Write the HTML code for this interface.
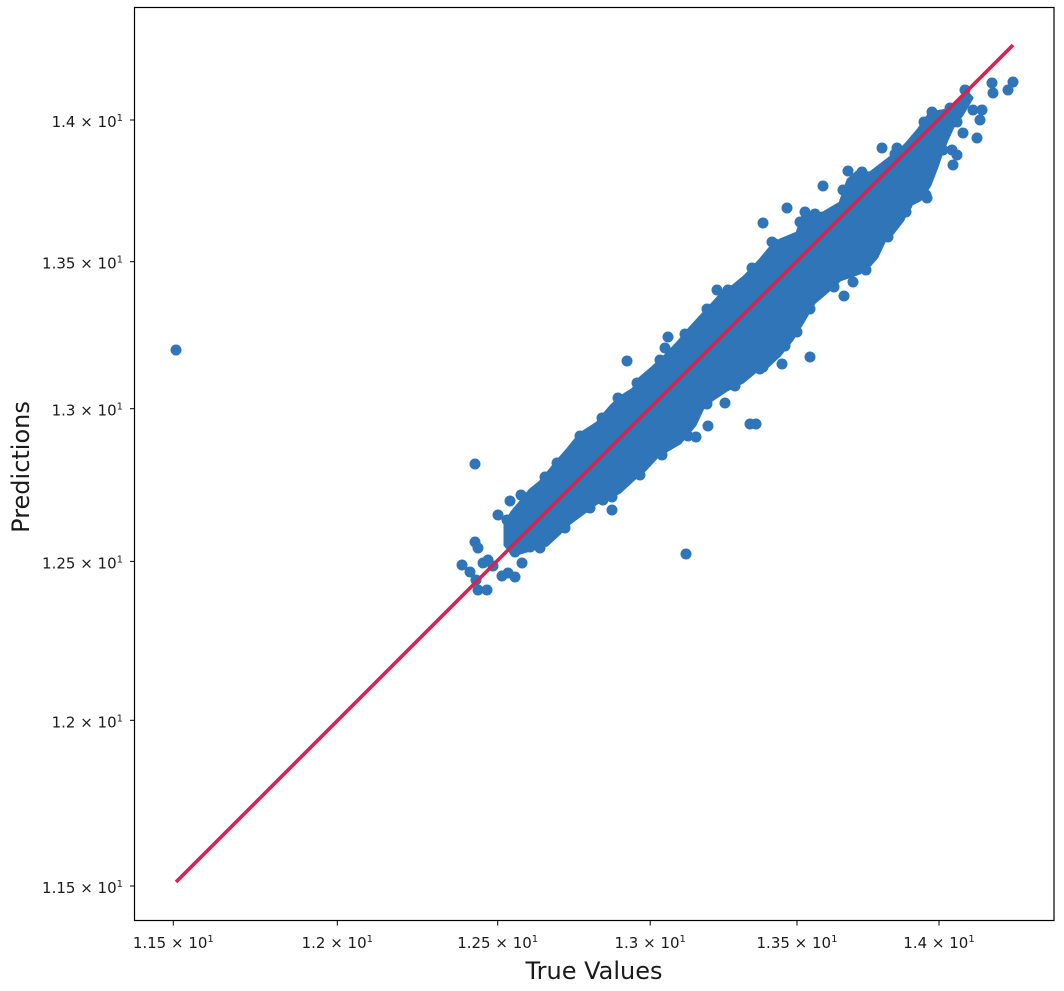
<!DOCTYPE html>
<html>
<head>
<meta charset="utf-8">
<style>
html,body{margin:0;padding:0;background:#fff;}
svg{display:block;}
text{font-family:"DejaVu Sans","Liberation Sans",sans-serif;fill:#1a1a1a;}
</style>
</head>
<body>
<svg width="1064" height="991" viewBox="0 0 1064 991" xmlns="http://www.w3.org/2000/svg">
<rect width="1064" height="991" fill="#fff"/>

<!-- scatter band -->
<g fill="#2f75b8" stroke="#2f75b8">
<polygon stroke-width="3" stroke-linejoin="round" points="
505,523 512,512 522,500 530,490 540,482 550,470 560,458 567,450 575,440 583,432 597,423 605,413 612,405 622,396 633,389 640,378 653,367 667,354 680,340 690,328 700,317 713,303 722,293 733,286 745,276 760,260 770,248 780,240 797,233 803,215 823,213 840,203 848,180 857,172 870,173 887,160 900,150 907,143 918,130 930,113 947,110 958,103 967,92 972,98
962,115 953,127 947,140 940,158 937,167 930,185 920,200 910,205 903,220 893,233 885,240 877,257 870,265 860,273 840,280 827,292 814,303 803,322 792,340 780,355 767,367 755,372 743,382 727,390 712,400 703,408 695,425 680,443 668,450 657,457 645,470 633,480 620,492 605,500 597,503 585,512 570,523 560,533 547,545 530,550 513,555 505,545"/>
</g>
<g fill="#2f75b8">
<!-- edge bumps -->
<circle cx="507" cy="520" r="5.5"/><circle cx="515" cy="552" r="5.5"/><circle cx="530" cy="547" r="5.5"/>
<circle cx="545" cy="477" r="5.5"/><circle cx="557" cy="463" r="5.5"/><circle cx="580" cy="436" r="5.5"/>
<circle cx="602" cy="418" r="5.5"/><circle cx="618" cy="398" r="5.5"/><circle cx="637" cy="383" r="5.5"/>
<circle cx="660" cy="360" r="5.5"/><circle cx="685" cy="334" r="5.5"/><circle cx="707" cy="309" r="5.5"/>
<circle cx="728" cy="290" r="5.5"/><circle cx="752" cy="268" r="5.5"/><circle cx="775" cy="244" r="5.5"/>
<circle cx="800" cy="222" r="5.5"/><circle cx="815" cy="214" r="5.5"/><circle cx="843" cy="190" r="5.5"/>
<circle cx="862" cy="172" r="5.5"/><circle cx="895" cy="154" r="5.5"/><circle cx="924" cy="122" r="5.5"/>
<circle cx="950" cy="108" r="5.5"/>
<circle cx="957" cy="122" r="5.5"/><circle cx="943" cy="150" r="5.5"/><circle cx="926" cy="195" r="5.5"/>
<circle cx="906" cy="212" r="5.5"/><circle cx="888" cy="237" r="5.5"/><circle cx="866" cy="270" r="5.5"/>
<circle cx="834" cy="287" r="5.5"/><circle cx="810" cy="309" r="5.5"/><circle cx="797" cy="332" r="5.5"/><circle cx="785" cy="346" r="5.5"/>
<circle cx="760" cy="369" r="5.5"/><circle cx="735" cy="386" r="5.5"/><circle cx="707" cy="404" r="5.5"/>
<circle cx="688" cy="436" r="5.5"/><circle cx="662" cy="455" r="5.5"/><circle cx="640" cy="475" r="5.5"/>
<circle cx="612" cy="497" r="5.5"/><circle cx="590" cy="508" r="5.5"/><circle cx="565" cy="528" r="5.5"/>
<circle cx="540" cy="548" r="5.5"/>
<!-- outliers -->
<circle cx="176" cy="350" r="5.5"/>
<circle cx="475" cy="464" r="5.5"/>
<circle cx="686" cy="554" r="5.5"/>
<circle cx="462" cy="565" r="5.5"/><circle cx="470" cy="572" r="5.5"/><circle cx="476" cy="580" r="5.5"/>
<circle cx="478" cy="590" r="5.5"/><circle cx="487" cy="590" r="5.5"/><circle cx="483" cy="563" r="5.5"/>
<circle cx="475" cy="542" r="5.5"/><circle cx="478" cy="548" r="5.5"/><circle cx="502" cy="576" r="5.5"/>
<circle cx="508" cy="573" r="5.5"/><circle cx="515" cy="577" r="5.5"/><circle cx="522" cy="563" r="5.5"/>
<circle cx="488" cy="560" r="5.5"/><circle cx="493" cy="566" r="5.5"/>
<circle cx="498" cy="515" r="5.5"/><circle cx="510" cy="501" r="5.5"/><circle cx="521" cy="495" r="5.5"/>
<circle cx="612" cy="510" r="5.5"/><circle cx="603" cy="500" r="5.5"/>
<circle cx="627" cy="361" r="5.5"/><circle cx="668" cy="337" r="5.5"/><circle cx="665" cy="348" r="5.5"/>
<circle cx="717" cy="290" r="5.5"/>
<circle cx="725" cy="403" r="5.5"/><circle cx="708" cy="426" r="5.5"/><circle cx="696" cy="437" r="5.5"/>
<circle cx="750" cy="424" r="5.5"/><circle cx="756" cy="424" r="5.5"/><circle cx="782" cy="364" r="5.5"/>
<circle cx="810" cy="357" r="5.5"/><circle cx="763" cy="367" r="5.5"/>
<circle cx="763" cy="223" r="5.5"/><circle cx="787" cy="208" r="5.5"/><circle cx="823" cy="186" r="5.5"/>
<circle cx="848" cy="171" r="5.5"/><circle cx="882" cy="148" r="5.5"/><circle cx="897" cy="148" r="5.5"/>
<circle cx="805" cy="212" r="5.5"/>
<circle cx="844" cy="296" r="5.5"/><circle cx="853" cy="282" r="5.5"/><circle cx="873" cy="238" r="5.5"/>
<circle cx="772" cy="242" r="5.5"/><circle cx="907" cy="205" r="5.5"/><circle cx="927" cy="198" r="5.5"/>
<circle cx="932" cy="112" r="5.5"/><circle cx="965" cy="90" r="5.5"/><circle cx="992" cy="83" r="5.5"/>
<circle cx="993" cy="93" r="5.5"/><circle cx="1008" cy="90" r="5.5"/><circle cx="1013" cy="82" r="5.5"/>
<circle cx="973" cy="110" r="5.5"/><circle cx="982" cy="110" r="5.5"/><circle cx="980" cy="120" r="5.5"/>
<circle cx="977" cy="138" r="5.5"/><circle cx="953" cy="165" r="5.5"/><circle cx="957" cy="155" r="5.5"/>
<circle cx="952" cy="150" r="5.5"/><circle cx="963" cy="133" r="5.5"/><circle cx="940" cy="128" r="5.5"/>
</g>

<!-- identity line -->
<line x1="176" y1="882" x2="1013" y2="45" stroke="#dc2050" stroke-width="3.6"/>

<!-- axes frame -->
<rect x="134.5" y="7.5" width="919.5" height="913" fill="none" stroke="#000" stroke-width="1.2"/>

<!-- x ticks -->
<g stroke="#000" stroke-width="1">
<line x1="173.3" y1="921" x2="173.3" y2="925.5"/>
<line x1="337.3" y1="921" x2="337.3" y2="925.5"/>
<line x1="497.7" y1="921" x2="497.7" y2="925.5"/>
<line x1="650.2" y1="921" x2="650.2" y2="925.5"/>
<line x1="797" y1="921" x2="797" y2="925.5"/>
<line x1="939" y1="921" x2="939" y2="925.5"/>
<!-- y ticks -->
<line x1="130" y1="120" x2="134.5" y2="120"/>
<line x1="130" y1="261.7" x2="134.5" y2="261.7"/>
<line x1="130" y1="408.7" x2="134.5" y2="408.7"/>
<line x1="130" y1="561.4" x2="134.5" y2="561.4"/>
<line x1="130" y1="720.3" x2="134.5" y2="720.3"/>
<line x1="130" y1="886" x2="134.5" y2="886"/>
</g>

<!-- x tick labels -->
<g font-size="15" text-anchor="middle">
<text x="173.3" y="948">1.15 × 10<tspan dy="-6" font-size="10">1</tspan></text>
<text x="337.3" y="948">1.2 × 10<tspan dy="-6" font-size="10">1</tspan></text>
<text x="497.7" y="948">1.25 × 10<tspan dy="-6" font-size="10">1</tspan></text>
<text x="650.2" y="948">1.3 × 10<tspan dy="-6" font-size="10">1</tspan></text>
<text x="797" y="948">1.35 × 10<tspan dy="-6" font-size="10">1</tspan></text>
<text x="939" y="948">1.4 × 10<tspan dy="-6" font-size="10">1</tspan></text>
</g>

<!-- y tick labels -->
<g font-size="15" text-anchor="end">
<text x="123" y="127">1.4 × 10<tspan dy="-6" font-size="10">1</tspan></text>
<text x="123" y="268.7">1.35 × 10<tspan dy="-6" font-size="10">1</tspan></text>
<text x="123" y="415.7">1.3 × 10<tspan dy="-6" font-size="10">1</tspan></text>
<text x="123" y="568.4">1.25 × 10<tspan dy="-6" font-size="10">1</tspan></text>
<text x="123" y="727.3">1.2 × 10<tspan dy="-6" font-size="10">1</tspan></text>
<text x="123" y="893">1.15 × 10<tspan dy="-6" font-size="10">1</tspan></text>
</g>

<!-- axis labels -->
<text x="594" y="979" font-size="24" text-anchor="middle">True Values</text>
<text transform="translate(29,467) rotate(-90)" font-size="24" text-anchor="middle">Predictions</text>
</svg>
</body>
</html>
